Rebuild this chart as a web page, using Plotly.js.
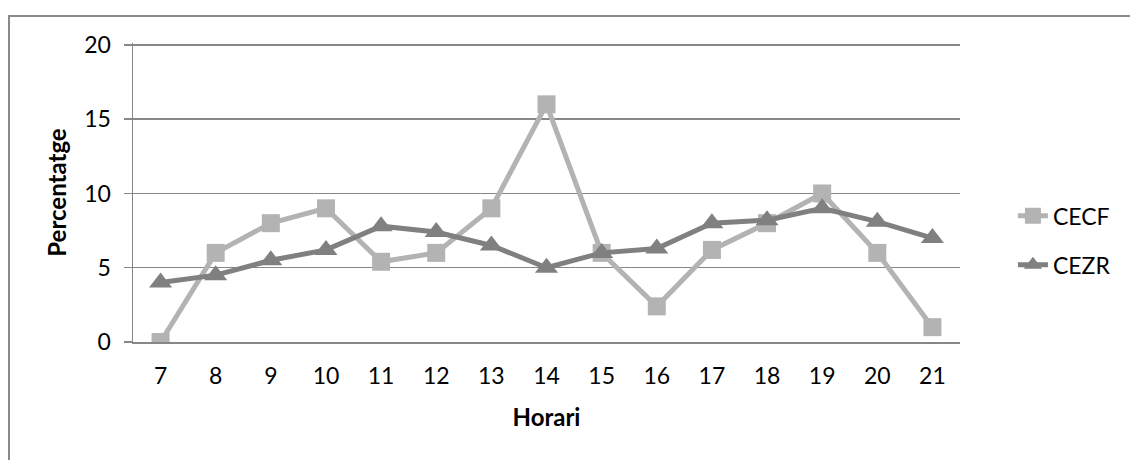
<!DOCTYPE html>
<html>
<head>
<meta charset="utf-8">
<script src="https://cdn.plot.ly/plotly-3.0.1.min.js"></script>
<style>
html,body{margin:0;padding:0;background:#fff;}
#wrap{position:relative;width:1130px;height:460px;overflow:hidden;}
#chart{position:absolute;left:0;top:0;width:1130px;height:460px;}
#frame{position:absolute;left:8px;top:15px;width:1130px;height:460px;border-top:2px solid #898989;border-left:2px solid #898989;pointer-events:none;}
</style>
</head>
<body>
<div id="wrap"><div id="chart"></div><div id="frame"></div></div>
<script>
const hours = ["7","8","9","10","11","12","13","14","15","16","17","18","19","20","21"];
const cecf = [0, 6, 8, 9, 5.4, 6, 9, 16, 6, 2.4, 6.2, 8, 10, 6, 1];
const cezr = [4, 4.5, 5.5, 6.2, 7.8, 7.4, 6.5, 5, 6, 6.3, 8, 8.2, 9, 8.1, 7];
const yTicks = [0, 5, 10, 15, 20];

const fontFam = "Lato, 'Open Sans', sans-serif";
const gridCol = "#878787";
const fs = 23;
const tfs = 24;

const traces = [
  {x: hours, y: cecf, name: "CECF", type: "scatter", mode: "lines+markers",
   legendgroup: "a",
   line: {color: "#B3B3B3", width: 5},
   marker: {symbol: "square", size: 18, color: "#B3B3B3"}},
  {x: hours, y: cezr, name: "CEZR", type: "scatter", mode: "lines+markers",
   legendgroup: "b",
   line: {color: "#808080", width: 5},
   marker: {symbol: "triangle-up", size: 20, color: "#808080"}}
];

const layout = {
  width: 1130, height: 460,
  margin: {l: 133, r: 170, t: 43, b: 118, pad: 0},
  paper_bgcolor: "#fff", plot_bgcolor: "#fff",
  font: {family: fontFam, size: fs, color: "#000"},
  showlegend: true,
  legend: {x: 1.064, xanchor: "left", y: 0.34, yanchor: "middle",
           traceorder: "grouped", tracegroupgap: 16,
           font: {family: fontFam, size: fs, color: "#000"}},
  xaxis: {type: "category", range: [-0.5, 14.5], showgrid: false,
          showline: true, linecolor: gridCol, linewidth: 1.5,
          ticks: "", zeroline: false, ticklabelstandoff: 13,
          tickfont: {family: fontFam, size: fs, color: "#000"},
          title: {text: "<b>Horari</b>", standoff: 21,
                  font: {family: fontFam, size: tfs, color: "#000"}}},
  yaxis: {range: [0, 20.13], tickvals: yTicks, showgrid: true, gridcolor: gridCol, gridwidth: 1.5,
          showline: true, linecolor: gridCol, linewidth: 1.5,
          ticks: "outside", ticklen: 8, tickcolor: gridCol, tickwidth: 1.5,
          zeroline: false, ticklabelstandoff: 8,
          tickfont: {family: fontFam, size: fs, color: "#000"},
          title: {text: "<b>Percentatge</b>", standoff: 11,
                  font: {family: fontFam, size: tfs, color: "#000"}}}
};

Plotly.newPlot("chart", traces, layout, {displayModeBar: false, staticPlot: true});
</script>
</body>
</html>
